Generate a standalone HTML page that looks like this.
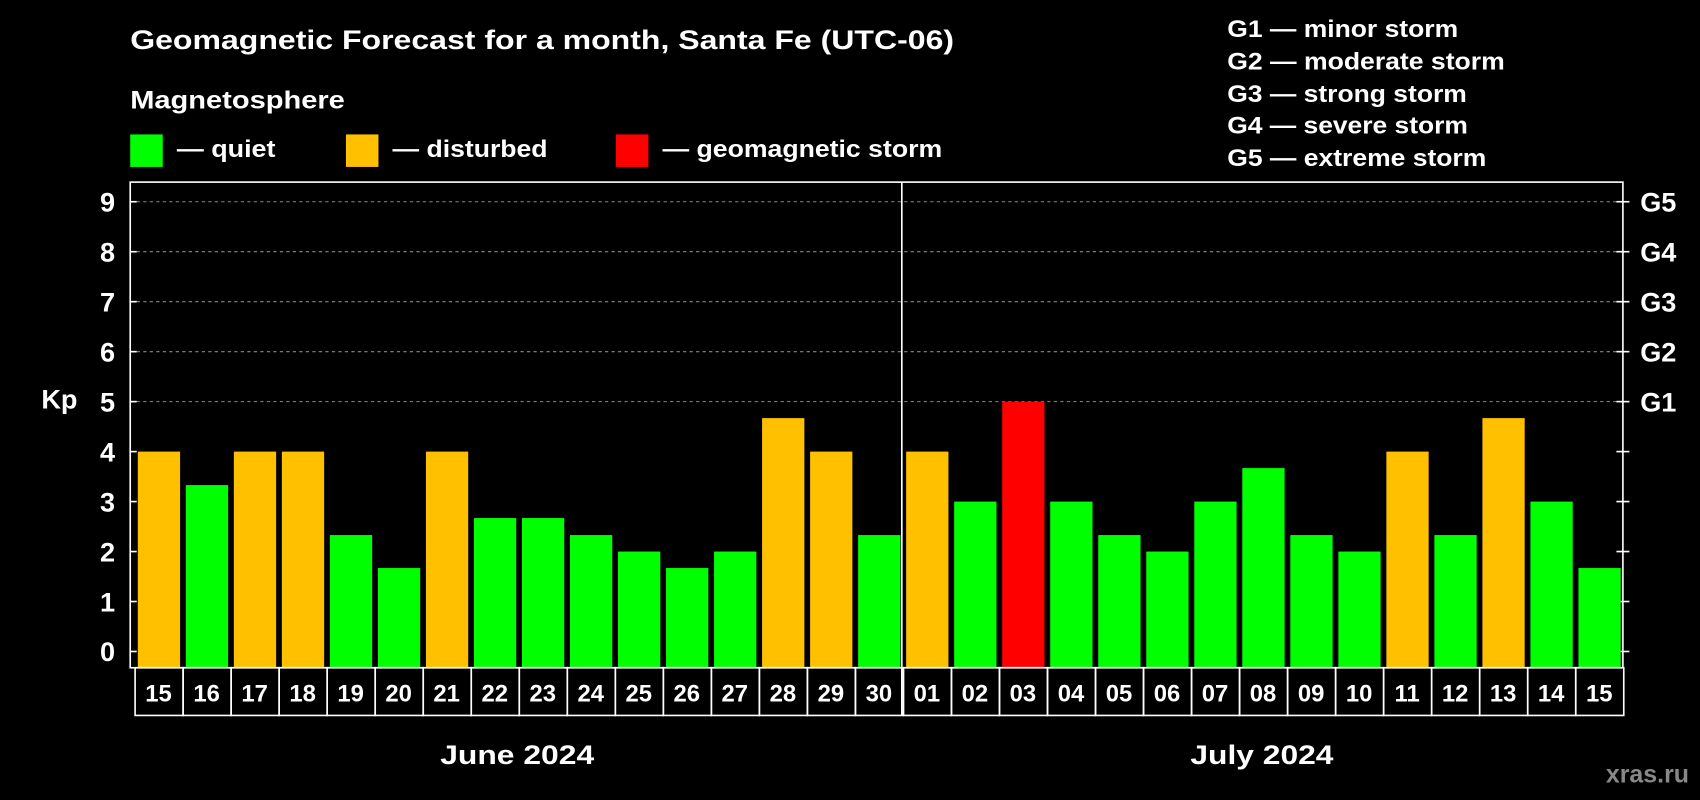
<!DOCTYPE html>
<html><head><meta charset="utf-8"><style>
html,body{margin:0;padding:0;background:#000;}
svg{display:block;font-family:"Liberation Sans",Arial,sans-serif;font-weight:bold;}
</style></head><body>
<svg id="chart" width="1700" height="800" viewBox="0 0 1568 738" xmlns="http://www.w3.org/2000/svg">
<rect width="1568" height="738" fill="#000"/>
<text x="120" y="45" fill="#fff" font-size="25" textLength="760" lengthAdjust="spacingAndGlyphs">Geomagnetic Forecast for a month, Santa Fe (UTC-06)</text>
<text x="120" y="100" fill="#fff" font-size="23" textLength="198" lengthAdjust="spacingAndGlyphs">Magnetosphere</text>
<g>
<rect x="120" y="124" width="30" height="30" fill="#00ff00"/>
<text x="163" y="145" fill="#fff" font-size="22" textLength="91" lengthAdjust="spacingAndGlyphs">— quiet</text>
<rect x="319" y="124" width="30" height="30" fill="#ffc000"/>
<text x="362" y="145" fill="#fff" font-size="22" textLength="143" lengthAdjust="spacingAndGlyphs">— disturbed</text>
<rect x="568" y="124" width="30" height="30" fill="#ff0000"/>
<text x="611" y="145" fill="#fff" font-size="22" textLength="258" lengthAdjust="spacingAndGlyphs">— geomagnetic storm</text>
</g>
<g fill="#fff" font-size="22">
<text x="1132" y="34" textLength="213" lengthAdjust="spacingAndGlyphs">G1 — minor storm</text>
<text x="1132" y="64" textLength="256" lengthAdjust="spacingAndGlyphs">G2 — moderate storm</text>
<text x="1132" y="94" textLength="221" lengthAdjust="spacingAndGlyphs">G3 — strong storm</text>
<text x="1132" y="123" textLength="222" lengthAdjust="spacingAndGlyphs">G4 — severe storm</text>
<text x="1132" y="153" textLength="239" lengthAdjust="spacingAndGlyphs">G5 — extreme storm</text>
</g>
<text x="38" y="377" fill="#fff" font-size="25">Kp</text>
<text x="406" y="705" fill="#fff" font-size="25" textLength="142" lengthAdjust="spacingAndGlyphs">June 2024</text>
<text x="1098" y="705" fill="#fff" font-size="25" textLength="132" lengthAdjust="spacingAndGlyphs">July 2024</text>
<text x="1558" y="722" fill="#888" font-size="23" text-anchor="end">xras.ru</text>
<g id="plot"></g>
</svg>
<script>
const days = ["15","16","17","18","19","20","21","22","23","24","25","26","27","28","29","30","01","02","03","04","05","06","07","08","09","10","11","12","13","14","15"];
const kpValues = [4,3.33,4,4,2.33,1.67,4,2.67,2.67,2.33,2,1.67,2,4.67,4,2.33,4,3,5,3,2.33,2,3,3.67,2.33,2,4,2.33,4.67,3,1.67];
const yTicks = [0,1,2,3,4,5,6,7,8,9];
const gLabels = ["","","","","","G1","G2","G3","G4","G5"];

const NS="http://www.w3.org/2000/svg";
const g=document.getElementById('plot');
const L=120,R=1497,T=168,B=616;
const y=v=>601-v*46.1;
const x0=125,slot=44.3;
const x=i=>x0+i*slot;
function mk(tag,attrs){const e=document.createElementNS(NS,tag);for(const k in attrs)e.setAttribute(k,attrs[k]);g.appendChild(e);return e;}
yTicks.forEach((t,i)=>{
  if(t>=5){const gl=mk('line',{x1:L,x2:R,y1:y(t),y2:y(t),stroke:'#888','stroke-dasharray':'3,3'});
  
  }
  const lt=mk('line',{x1:L,x2:L+6,y1:y(t),y2:y(t),stroke:'#fff','stroke-width':1.5});
  
  
  const rt=mk('line',{x1:R-6,x2:R+6,y1:y(t),y2:y(t),stroke:'#fff','stroke-width':1.5});
  
  
  const tl=mk('text',{x:106,y:y(t)+9,fill:'#fff','font-size':25,'text-anchor':'end'});
  tl.textContent=t;
  
  
  if(gLabels[i]){const gt=mk('text',{x:1513,y:y(t)+9,fill:'#fff','font-size':25});
  gt.textContent=gLabels[i];
  
  }
});
kpValues.forEach((v,i)=>{
  const c=v>=5?'#ff0000':(v>=4?'#ffc000':'#00ff00');
  const b=mk('rect',{x:x(i)+2,y:y(v),width:39,height:B-y(v),fill:c});
  
  
  const cell=mk('rect',{x:x(i)-0.5,y:B,width:slot,height:44,fill:'none',stroke:'#fff','stroke-width':1.5});
  
  
  const dl=mk('text',{x:x(i)+slot/2-1,y:647,fill:'#fff','font-size':22,'text-anchor':'middle'});
  dl.textContent=days[i];
  
  
});
const fr=mk('rect',{x:L,y:T,width:R-L,height:B-T,fill:'none',stroke:'#fff','stroke-width':1.5});


const dv=mk('line',{x1:x(16)-2,x2:x(16)-2,y1:T,y2:660,stroke:'#fff','stroke-width':1.5});


</script>
</body></html>
